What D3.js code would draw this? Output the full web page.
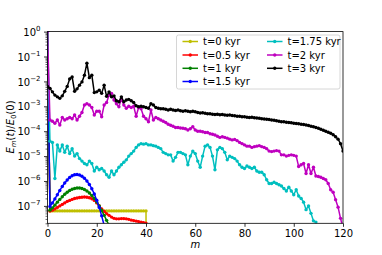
<!DOCTYPE html>
<html>
<head>
<meta charset="utf-8">
<script src="https://cdn.jsdelivr.net/npm/d3@7"></script>
<style>
  body { margin: 0; background: #fff; }
  text { font-family: "DejaVu Sans", sans-serif; }
</style>
</head>
<body>
<script>
// series labels and colours (matplotlib y r g b c m k)
const seriesLabels = ['t=0 kyr', 't=0.5 kyr', 't=1 kyr', 't=1.5 kyr', 't=1.75 kyr', 't=2 kyr', 't=3 kyr']
const seriesColors = ['#bfbf00', '#ff0000', '#008000', '#0000ff', '#00bfbf', '#bf00bf', '#000000']

// log10 of E_m(t)/E_0(0), index = m
const t0Exp = [0,
  -7.2, -7.2, -7.2, -7.2, -7.2, -7.2, -7.2, -7.2, -7.2, -7.2,
  -7.2, -7.2, -7.2, -7.2, -7.2, -7.2, -7.2, -7.2, -7.2, -7.2,
  -7.2, -7.2, -7.2, -7.2, -7.2, -7.2, -7.2, -7.2, -7.2, -7.2,
  -7.2, -7.2, -7.2, -7.2, -7.2, -7.2, -7.2, -7.2, -7.2, -7.2,
  -30]
const t05Exp = [0,
  -7.21, -7.17, -7.12, -7.06, -7.0, -6.94, -6.88, -6.82, -6.78, -6.74,
  -6.7, -6.68, -6.66, -6.65, -6.64, -6.65, -6.67, -6.71, -6.78, -6.88,
  -7.0, -7.12, -7.22, -7.31, -7.38, -7.45, -7.5, -7.52, -7.52, -7.51,
  -7.51, -7.52, -7.54, -7.57, -7.59, -7.61, -7.63, -7.65, -7.67, -7.69,
  -30]
const t1Exp = [0,
  -7.17, -7.08, -6.97, -6.85, -6.74, -6.63, -6.53, -6.45, -6.38, -6.33,
  -6.3, -6.28, -6.28, -6.3, -6.34, -6.4, -6.48, -6.58, -6.7, -6.84,
  -7.0, -7.18, -7.38, -7.58, -7.78, -8.0, -8.3]
const t15Exp = [0,
  -7.02, -6.88, -6.72, -6.55, -6.38, -6.22, -6.08, -5.96, -5.86, -5.79,
  -5.75, -5.74, -5.76, -5.81, -5.89, -6.0, -6.14, -6.31, -6.52, -6.77,
  -7.06, -7.4, -7.78, -8.2]
const t175Exp = [0,
  -4.4, -4.45, -5.9, -4.55, -4.8, -4.55, -4.85, -4.6, -4.9, -4.7,
  -5.0, -4.9, -5.1, -5.2, -5.3, -5.35, -5.2, -5.3, -5.6, -5.45,
  -5.55, -5.5, -5.6, -5.75, -5.85, -5.6, -5.75, -5.6, -5.45, -5.35,
  -5.25, -5.15, -5.0, -4.9, -4.8, -4.65, -4.55, -4.5, -4.52, -4.5,
  -4.55, -4.55, -4.58, -4.6, -4.65, -4.7, -4.85, -4.9, -4.95, -4.95,
  -5.2, -5.05, -4.85, -4.85, -4.9, -4.95, -5.35, -5.0, -4.8, -4.9,
  -5.2, -5.45, -5.0, -4.6, -4.55, -4.65, -5.0, -5.55, -4.75, -4.65,
  -4.7, -4.85, -5.15, -5.0, -5.05, -5.1, -5.2, -5.35, -5.45, -5.5,
  -5.4, -5.45, -5.5, -5.45, -5.6, -5.65, -5.65, -5.75, -5.95, -6.1,
  -6.1, -6.05, -6.1, -6.15, -6.2, -6.3, -6.4, -6.25, -6.4, -6.55,
  -6.35, -6.6, -6.7, -6.85, -7.15, -7.0, -7.3, -7.6, -7.65, -8.2]
const t2Exp = [0,
  -3.55, -3.6, -3.68, -3.55, -3.75, -3.45, -3.55, -3.5, -3.45, -3.5,
  -3.35, -3.55, -3.4, -3.25, -2.95, -2.9, -2.95, -3.05, -3.35, -3.2,
  -3.2, -3.42, -2.95, -2.85, -2.55, -2.48, -2.75, -2.9, -3.02, -2.7,
  -2.95, -3.08, -3.0, -3.05, -3.0, -3.4, -3.05, -3.1, -3.4, -3.5,
  -3.62, -3.15, -3.55, -3.45, -3.5, -3.55, -3.6, -3.65, -3.72, -3.76,
  -3.8, -3.85, -3.85, -3.87, -3.88, -3.9, -3.95, -3.9, -3.82, -3.95,
  -4.0, -4.0, -4.02, -4.05, -4.05, -4.1, -4.12, -4.15, -4.2, -4.25,
  -4.22, -4.25, -4.28, -4.32, -4.35, -4.33, -4.38, -4.45, -4.5, -4.55,
  -4.6, -4.6, -4.65, -4.62, -4.6, -4.58, -4.62, -4.65, -4.7, -4.8,
  -4.82, -4.8, -4.78, -4.8, -4.95, -4.95, -5.0, -4.97, -4.95, -4.97,
  -5.0, -5.42, -5.35, -5.3, -5.7, -5.35, -5.7, -5.45, -5.8, -5.82,
  -5.85, -5.9, -5.95, -6.1, -6.35, -6.45, -6.75, -7.05, -7.5, -7.9]
const t3Exp = [-2.2,
  -2.28, -2.42, -2.55, -2.62, -2.68, -2.58, -2.4, -2.2, -1.9, -1.82,
  -2.4, -2.3, -2.15, -2.02, -1.75, -1.27, -1.85, -1.75, -2.45, -2.42,
  -2.35, -2.48, -2.15, -2.6, -2.42, -2.62, -2.58, -2.78, -2.82, -2.62,
  -2.82, -2.75, -2.72, -2.78, -2.85, -2.98, -3.02, -3.0, -3.02, -3.05,
  -3.08, -2.9, -2.95, -3.05, -3.08, -3.1, -3.1, -3.12, -3.15, -3.12,
  -3.15, -3.17, -3.15, -3.18, -3.2, -3.18, -3.2, -3.22, -3.2, -3.22,
  -3.25, -3.27, -3.26, -3.28, -3.3, -3.3, -3.32, -3.33, -3.32, -3.34,
  -3.33, -3.35, -3.36, -3.35, -3.37, -3.38, -3.4, -3.4, -3.42, -3.42,
  -3.44, -3.45, -3.44, -3.46, -3.47, -3.48, -3.5, -3.51, -3.52, -3.53,
  -3.55, -3.56, -3.58, -3.6, -3.62, -3.62, -3.64, -3.65, -3.66, -3.68,
  -3.69, -3.7, -3.72, -3.73, -3.75, -3.77, -3.8, -3.82, -3.85, -3.88,
  -3.92, -3.96, -4.0, -4.04, -4.08, -4.14, -4.22, -4.32, -4.5, -4.8]

const xTicks = [0, 20, 40, 60, 80, 100, 120]
const yTickExps = [-7, -6, -5, -4, -3, -2, -1, 0]

const allExp = [t0Exp, t05Exp, t1Exp, t15Exp, t175Exp, t2Exp, t3Exp]

const width = 382
const height = 255
const plotLeft = 47.5, plotRight = 343, plotTop = 31.6, plotBottom = 223.3

const svg = d3.select('body')
    .append('svg')
    .attr('width', width)
    .attr('height', height)

const xScale = d3.scaleLinear().domain([0, 120]).range([plotLeft, plotRight])
const yScale = d3.scaleLog().domain([2e-8, 1]).range([plotBottom, plotTop])

svg.append('clipPath').attr('id', 'plotClip')
    .append('rect')
    .attr('x', plotLeft).attr('y', plotTop)
    .attr('width', plotRight - plotLeft).attr('height', plotBottom - plotTop)

// minor y ticks (2..9 x 10^k)
let minorTicks = []
for (let k = -8; k < 0; k++) {
    for (let j = 2; j <= 9; j++) {
        let v = j * Math.pow(10, k)
        if (v >= 2e-8 && v < 1) minorTicks.push(v)
    }
}
svg.append('g')
    .attr('transform', 'translate(' + plotLeft + ',0)')
    .call(d3.axisLeft(yScale).tickValues(minorTicks).tickSize(2).tickFormat(''))
    .call(g => g.select('.domain').remove())
    .call(g => g.selectAll('line').attr('stroke-width', 0.6))

// major y ticks with 10^k labels
let yAxis = svg.append('g')
    .attr('transform', 'translate(' + plotLeft + ',0)')
    .call(d3.axisLeft(yScale).tickValues(yTickExps.map(e => Math.pow(10, e))).tickSize(3.5).tickFormat(''))
yAxis.select('.domain').remove()
yAxis.selectAll('line').attr('stroke-width', 0.8)
yAxis.selectAll('.tick').each(function (d) {
    let e = Math.round(Math.log10(d))
    let t = d3.select(this).append('text')
        .attr('x', -7)
        .attr('y', 3.6)
        .attr('fill', '#000')
        .attr('text-anchor', 'end')
        .style('font-size', '10px')
    t.append('tspan').text('10')
    t.append('tspan')
        .attr('dy', -5)
        .style('font-size', '7px')
        .text(e < 0 ? '\u2212' + (-e) : String(e))
})

// x axis
let xAxis = svg.append('g')
    .attr('transform', 'translate(0,' + plotBottom + ')')
    .call(d3.axisBottom(xScale).tickValues(xTicks).tickSize(3.5).tickPadding(3))
xAxis.select('.domain').remove()
xAxis.selectAll('line').attr('stroke-width', 0.8)
xAxis.selectAll('text').style('font-size', '10px').attr('fill', '#000')

// series
const line = d3.line()
    .x((d, i) => xScale(i))
    .y(d => yScale(Math.pow(10, Math.max(d, -30))))

const plot = svg.append('g').attr('clip-path', 'url(#plotClip)')
allExp.forEach((exps, s) => {
    plot.append('path')
        .datum(exps)
        .attr('d', line)
        .attr('fill', 'none')
        .attr('stroke', seriesColors[s])
        .attr('stroke-width', 1.5)
        .attr('stroke-linejoin', 'round')
    plot.selectAll('.dot' + s)
        .data(exps)
        .enter().append('circle')
        .attr('cx', (d, i) => xScale(i))
        .attr('cy', d => yScale(Math.pow(10, Math.max(d, -30))))
        .attr('r', 1.7)
        .attr('fill', seriesColors[s])
})

// frame
svg.append('rect')
    .attr('x', plotLeft).attr('y', plotTop)
    .attr('width', plotRight - plotLeft).attr('height', plotBottom - plotTop)
    .attr('fill', 'none')
    .attr('stroke', '#000')
    .attr('stroke-width', 0.8)

// legend
const legend = svg.append('g')
legend.append('rect')
    .attr('x', 176.5).attr('y', 35)
    .attr('width', 163.5).attr('height', 54)
    .attr('rx', 2)
    .attr('fill', 'rgba(255,255,255,0.8)')
    .attr('stroke', '#cccccc')
    .attr('stroke-width', 0.8)
const rowY = [41.5, 55, 68.3, 81.5]
seriesLabels.forEach((lab, i) => {
    let col = i < 4 ? 0 : 1
    let row = i < 4 ? i : i - 4
    let x0 = col === 0 ? 182.5 : 267
    let y0 = rowY[row]
    legend.append('line')
        .attr('x1', x0).attr('x2', x0 + 15.5)
        .attr('y1', y0).attr('y2', y0)
        .attr('stroke', seriesColors[i])
        .attr('stroke-width', 1.5)
    legend.append('circle')
        .attr('cx', x0 + 7.75).attr('cy', y0)
        .attr('r', 1.7)
        .attr('fill', seriesColors[i])
    legend.append('text')
        .attr('x', x0 + 20.5)
        .attr('y', y0 + 3.6)
        .style('font-size', '10px')
        .text(lab)
})

// axis labels
svg.append('text')
    .attr('x', (plotLeft + plotRight) / 2)
    .attr('y', 248)
    .attr('text-anchor', 'middle')
    .style('font-size', '10px')
    .style('font-style', 'italic')
    .text('m')

let yl = svg.append('text')
    .attr('transform', 'translate(14,127) rotate(-90)')
    .attr('text-anchor', 'middle')
    .style('font-size', '10px')
yl.append('tspan').style('font-style', 'italic').text('E')
yl.append('tspan').style('font-style', 'italic').style('font-size', '7px').attr('dy', 2).text('m')
yl.append('tspan').attr('dy', -2).text('(')
yl.append('tspan').style('font-style', 'italic').text('t')
yl.append('tspan').text(')/')
yl.append('tspan').style('font-style', 'italic').text('E')
yl.append('tspan').style('font-size', '7px').attr('dy', 2).text('0')
yl.append('tspan').attr('dy', -2).text('(0)')
</script>
</body>
</html>
